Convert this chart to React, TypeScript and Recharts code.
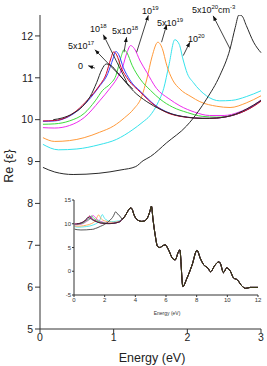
import React from "react";
import {
  LineChart,
  Line,
  XAxis,
  YAxis,
  ReferenceLine,
  ReferenceDot,
} from "recharts";

// Re(eps) vs energy, one array per doping level: [energy eV, value]
const undoped = [
  [0.18, 10.0], [0.3, 10.04], [0.45, 10.15], [0.58, 10.32], [0.68, 10.55],
  [0.77, 10.89], [0.84, 11.2], [0.9, 11.33], [0.96, 11.3], [1.05, 11.13],
  [1.15, 10.92], [1.27, 10.68], [1.45, 10.43], [1.63, 10.25], [1.8, 10.13],
  [2.0, 10.06], [2.2, 10.03], [2.4, 10.04], [2.6, 10.1], [2.8, 10.25], [3.0, 10.46],
];
const d5e17 = [
  [0.04, 9.97], [0.2, 9.98], [0.35, 10.05], [0.5, 10.22], [0.65, 10.48],
  [0.8, 10.8], [0.9, 11.1], [0.96, 11.45], [1.0, 11.62], [1.04, 11.55],
  [1.1, 11.25], [1.2, 10.95], [1.36, 10.66], [1.55, 10.35], [1.72, 10.17],
  [1.9, 10.08], [2.1, 10.04], [2.3, 10.03], [2.5, 10.06], [2.7, 10.15],
  [2.9, 10.32], [3.0, 10.44],
];
const d1e18 = [
  [0.04, 9.96], [0.2, 9.97], [0.35, 10.04], [0.5, 10.2], [0.65, 10.45],
  [0.8, 10.78], [0.92, 11.1], [0.99, 11.45], [1.03, 11.63], [1.07, 11.55],
  [1.13, 11.25], [1.22, 10.95], [1.38, 10.65], [1.56, 10.35], [1.74, 10.17],
  [1.92, 10.08], [2.1, 10.04], [2.3, 10.03], [2.5, 10.06], [2.7, 10.15],
  [2.9, 10.33], [3.0, 10.45],
];
const d5e18 = [
  [0.04, 9.89], [0.2, 9.9], [0.4, 9.97], [0.6, 10.15], [0.75, 10.45],
  [0.85, 10.7], [0.95, 10.85], [1.03, 11.05], [1.1, 11.5], [1.14, 11.67],
  [1.18, 11.6], [1.25, 11.3], [1.36, 10.97], [1.5, 10.7], [1.63, 10.49],
  [1.8, 10.3], [2.0, 10.17], [2.2, 10.08], [2.4, 10.06], [2.6, 10.1],
  [2.8, 10.23], [3.0, 10.45],
];
const d1e19 = [
  [0.04, 9.81], [0.2, 9.8], [0.4, 9.86], [0.6, 10.05], [0.81, 10.45],
  [0.95, 10.75], [1.04, 10.97], [1.12, 11.25], [1.18, 11.6], [1.23, 11.77],
  [1.28, 11.7], [1.36, 11.4], [1.45, 11.13], [1.58, 10.75], [1.75, 10.5],
  [1.9, 10.33], [2.1, 10.18], [2.3, 10.1], [2.5, 10.1], [2.7, 10.18],
  [2.9, 10.35], [3.0, 10.47],
];
const d5e19 = [
  [0.04, 9.57], [0.2, 9.48], [0.4, 9.5], [0.6, 9.57], [0.81, 9.7],
  [1.0, 9.85], [1.15, 10.05], [1.27, 10.25], [1.38, 10.55], [1.45, 10.97],
  [1.52, 11.5], [1.6, 11.85], [1.66, 11.7], [1.72, 11.3], [1.8, 10.95],
  [1.9, 10.73], [2.05, 10.55], [2.17, 10.43], [2.4, 10.32], [2.58, 10.29],
  [2.8, 10.4], [3.0, 10.57],
];
const d1e20 = [
  [0.04, 9.41], [0.25, 9.28], [0.5, 9.3], [0.8, 9.4], [1.04, 9.53],
  [1.25, 9.75], [1.4, 9.95], [1.49, 10.09], [1.6, 10.4], [1.68, 10.75],
  [1.75, 11.3], [1.83, 11.91], [1.89, 11.8], [1.94, 11.45], [2.0, 11.1],
  [2.08, 10.89], [2.26, 10.57], [2.44, 10.45], [2.6, 10.46], [2.8, 10.55],
  [3.0, 10.69],
];
const d5e20 = [
  [0.04, 8.86], [0.2, 8.75], [0.45, 8.69], [0.8, 8.72], [1.1, 8.8],
  [1.3, 8.88], [1.4, 9.02], [1.5, 9.12], [1.72, 9.45], [1.99, 9.85],
  [2.15, 10.2], [2.26, 10.49], [2.44, 11.05], [2.58, 11.69], [2.65, 12.2],
  [2.7, 12.5], [2.74, 12.48], [2.8, 12.25], [2.9, 11.85], [3.0, 11.6],
];
// common high-energy part shown in the inset
const tail = [
  [3.15, 10.95], [3.3, 11.5], [3.45, 12.3], [3.6, 13.1], [3.7, 13.35],
  [3.8, 13.0], [3.9, 12.0], [4.0, 11.3], [4.2, 10.7], [4.4, 10.5],
  [4.6, 10.6], [4.8, 11.3], [4.95, 12.6], [5.05, 13.7], [5.15, 11.0],
  [5.3, 7.5], [5.45, 5.2], [5.6, 5.0], [5.8, 5.4], [5.95, 5.55],
  [6.15, 4.6], [6.45, 2.6], [6.6, 2.4], [6.8, 4.0], [6.9, 4.5],
  [7.1, -3.2], [7.35, -1.6], [7.7, 1.3], [8.02, 4.4], [8.25, 2.6],
  [8.45, 1.4], [8.75, 0.6], [8.9, -0.1], [9.2, 1.3], [9.45, 2.0],
  [9.55, 1.6], [9.75, -0.3], [9.95, 0.7], [10.2, 0.0], [10.4, -1.4],
  [10.65, -1.8], [10.95, -3.1], [11.2, -3.6], [11.5, -3.4], [12.0, -3.4],
];

const xTicks = [0, 1, 2, 3];
const yTicks = [5, 6, 7, 8, 9, 10, 11, 12];
const insetXTicks = [0, 2, 4, 6, 8, 10, 12];
const insetYTicks = [-5, 0, 5, 10, 15];

const series = [
  { key: "1e20", pts: d1e20, color: "#35e3ec" },
  { key: "5e19", pts: d5e19, color: "#ff9a3a" },
  { key: "1e19", pts: d1e19, color: "#ee2cee" },
  { key: "5e18", pts: d5e18, color: "#3ddc3d" },
  { key: "1e18", pts: d1e18, color: "#3340ff" },
  { key: "5e17", pts: d5e17, color: "#d4002a" },
  { key: "0", pts: undoped, color: "#2a2a2a" },
  { key: "5e20", pts: d5e20, color: "#2a2a2a" },
];

// annotation labels: text parts [text, superscript], label anchor, arrow from curve to label
const notes = [
  { parts: [["0", false]], at: [0.516, 11.21], from: [0.746, 11.23], to: [0.655, 11.29] },
  { parts: [["5x10", false], ["17", true]], at: [0.38, 11.69], from: [1.26, 10.73], to: [0.746, 11.67] },
  { parts: [["10", false], ["18", true]], at: [0.678, 12.1], from: [1.18, 10.89], to: [0.859, 12.03] },
  { parts: [["5x10", false], ["18", true]], at: [0.977, 12.05], from: [1.14, 11.61], to: [1.176, 11.97] },
  { parts: [["10", false], ["19", true]], at: [1.384, 12.53], from: [1.312, 11.61], to: [1.47, 12.49] },
  { parts: [["5x10", false], ["19", true]], at: [1.587, 12.24], from: [1.65, 11.85], to: [1.72, 12.27] },
  { parts: [["10", false], ["20", true]], at: [2.008, 11.86], from: [1.944, 11.53], to: [2.035, 11.85] },
  { parts: [["5x10", false], ["20", true], ["cm", false], ["-3", true]], at: [2.062, 12.55], from: [2.58, 11.69], to: [2.35, 12.48] },
];

const FONT = "'Liberation Sans', Arial, sans-serif";
const rows = (pts: number[][]) => pts.map(([e, v]) => ({ e, v }));

function NoteText(props: any) {
  const { cx, cy, parts } = props;
  let up = false;
  const kids = parts.map(([t, sup]: [string, boolean], i: number) => {
    const dy = sup && !up ? -4 : !sup && up ? 4 : 0;
    up = sup;
    return (
      <tspan key={i} dy={dy} fontSize={sup ? 6 : 9}>
        {t}
      </tspan>
    );
  });
  return (
    <text x={cx} y={cy} fontFamily={FONT} fill="#111">
      {kids}
    </text>
  );
}

function MainChart() {
  return (
    <LineChart width={267} height={366} margin={{ top: 15, right: 6, bottom: 0, left: 10 }}>
      <defs>
        <marker
          id="ah"
          viewBox="0 0 10 10"
          refX="10"
          refY="5"
          markerUnits="userSpaceOnUse"
          markerWidth="5"
          markerHeight="5"
          orient="auto"
        >
          <path d="M0,1 L10,5 L0,9 z" fill="#111" />
        </marker>
      </defs>
      <XAxis
        dataKey="e"
        type="number"
        domain={[0, 3]}
        ticks={xTicks}
        height={37}
        tickSize={4}
        tickMargin={1}
        stroke="#333"
        tick={{ fill: "#222", fontSize: 10.5, fontFamily: FONT }}
        label={{
          content: () => (
            <text x={152} y={358} textAnchor="middle" dominantBaseline="central" fontSize={12.5} fontFamily={FONT} fill="#222">
              Energy (eV)
            </text>
          ),
        }}
      />
      <YAxis
        type="number"
        domain={[5, 12.5]}
        allowDataOverflow
        ticks={yTicks}
        width={30}
        tickSize={5}
        tickMargin={2}
        stroke="#333"
        tick={{ fill: "#222", fontSize: 10.5, fontFamily: FONT }}
        label={{
          content: () => (
            <text x={9} y={166} transform="rotate(-90 9 166)" textAnchor="middle" dominantBaseline="central" fontSize={12.5} fontFamily={FONT} fill="#222">
              Re {"{ε}"}
            </text>
          ),
        }}
      />
      {series.map((s) => (
        <Line
          key={s.key}
          data={rows(s.pts)}
          dataKey="v"
          type="monotone"
          stroke={s.color}
          strokeWidth={1}
          dot={false}
          isAnimationActive={false}
        />
      ))}
      {notes.map((n, i) => (
        <ReferenceLine
          key={"l" + i}
          segment={[
            { x: n.from[0], y: n.from[1] },
            { x: n.to[0], y: n.to[1] },
          ]}
          stroke="#111"
          strokeWidth={0.8}
          markerEnd="url(#ah)"
          ifOverflow="visible"
        />
      ))}
      {notes.map((n, i) => (
        <ReferenceDot
          key={"t" + i}
          x={n.at[0]}
          y={n.at[1]}
          r={0}
          ifOverflow="visible"
          shape={(p: any) => <NoteText cx={p.cx} cy={p.cy} parts={n.parts} />}
        />
      ))}
    </LineChart>
  );
}

function Inset() {
  return (
    <LineChart width={214} height={135} margin={{ top: 10, right: 6, bottom: 0, left: 0 }}>
      <XAxis
        dataKey="e"
        type="number"
        domain={[0, 12]}
        ticks={insetXTicks}
        height={30}
        tickSize={2}
        tickMargin={1}
        stroke="#333"
        tick={{ fill: "#333", fontSize: 6, fontFamily: FONT }}
        label={{
          content: () => (
            <text x={117} y={123} textAnchor="middle" dominantBaseline="central" fontSize={5} fontFamily={FONT} fill="#333">
              Energy (eV)
            </text>
          ),
        }}
      />
      <YAxis
        type="number"
        domain={[-5, 15]}
        ticks={insetYTicks}
        width={24}
        tickSize={2}
        tickMargin={1}
        stroke="#333"
        tick={{ fill: "#333", fontSize: 6, fontFamily: FONT }}
      />
      {series.map((s) => (
        <Line
          key={s.key}
          data={rows([...s.pts, ...tail])}
          dataKey="v"
          type="monotone"
          stroke={s.color}
          strokeWidth={0.8}
          dot={false}
          isAnimationActive={false}
        />
      ))}
      <Line
        data={rows(tail)}
        dataKey="v"
        type="monotone"
        stroke="#3b3a14"
        strokeWidth={1}
        dot={false}
        isAnimationActive={false}
      />
    </LineChart>
  );
}

export default function App() {
  return (
    <div style={{ position: "absolute", left: 0, top: 0, width: 267, height: 366, background: "#fff" }}>
      <MainChart />
      <div style={{ position: "absolute", left: 50, top: 190 }}>
        <Inset />
      </div>
    </div>
  );
}
